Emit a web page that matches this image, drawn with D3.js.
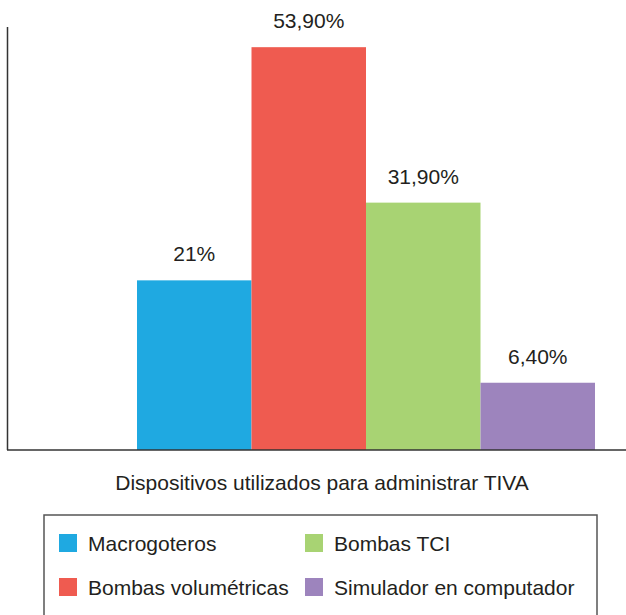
<!DOCTYPE html>
<html>
<head>
<meta charset="utf-8">
<script src="https://cdn.jsdelivr.net/npm/d3@7"></script>
<style>
  body { margin: 0; background: #fff; }
  svg text { font-family: "Liberation Sans", Arial, Helvetica, sans-serif; fill: #231f20; }
</style>
</head>
<body>
<div id="chart"></div>
<script>
// categories, bar heights and the printed labels
var categories = ['Macrogoteros', 'Bombas volumétricas', 'Bombas TCI', 'Simulador en computador'];
var values = [22.7, 53.9, 33.1, 9.0];
var valueLabels = ['21%', '53,90%', '31,90%', '6,40%'];
var colors = ['#1fa9e1', '#ef5b50', '#a8d373', '#9d84bd'];
var axisTitle = 'Dispositivos utilizados para administrar TIVA';

var width = 626, height = 615;
var baseY = 450, topY = 27;

var svg = d3.select('#chart').append('svg')
    .attr('width', width)
    .attr('height', height);

var x = d3.scaleBand().domain(categories).range([137, 595]).padding(0);
var y = d3.scaleLinear().domain([0, 56.6]).range([baseY, topY]);

// bars
svg.selectAll('rect.bar').data(values).enter()
  .append('rect')
  .attr('class', 'bar')
  .attr('x', function(d, i) { return x(categories[i]); })
  .attr('y', function(d) { return y(d); })
  .attr('width', x.bandwidth())
  .attr('height', function(d) { return baseY - y(d); })
  .attr('fill', function(d, i) { return colors[i]; });

// value labels
svg.selectAll('text.val').data(values).enter()
  .append('text')
  .attr('class', 'val')
  .attr('x', function(d, i) { return x(categories[i]) + x.bandwidth() / 2; })
  .attr('y', function(d) { return y(d) - 19; })
  .attr('text-anchor', 'middle')
  .attr('font-size', 21)
  .text(function(d, i) { return valueLabels[i]; });

// axes lines
svg.append('line')
  .attr('x1', 7.5).attr('x2', 7.5)
  .attr('y1', topY).attr('y2', baseY)
  .attr('stroke', '#333').attr('stroke-width', 1.5);
svg.append('line')
  .attr('x1', 7).attr('x2', width)
  .attr('y1', baseY).attr('y2', baseY)
  .attr('stroke', '#333').attr('stroke-width', 1.5);

// axis title
svg.append('text')
  .attr('x', 322).attr('y', 490)
  .attr('text-anchor', 'middle')
  .attr('font-size', 21)
  .text(axisTitle);

// legend
svg.append('rect')
  .attr('x', 44).attr('y', 515)
  .attr('width', 553).attr('height', 120)
  .attr('fill', 'none')
  .attr('stroke', '#555').attr('stroke-width', 1.5);

var legendPos = [[59, 534], [59, 578], [305, 534], [305, 578]];
var item = svg.selectAll('g.leg').data(categories).enter()
  .append('g')
  .attr('class', 'leg')
  .attr('transform', function(d, i) { return 'translate(' + legendPos[i][0] + ',' + legendPos[i][1] + ')'; });
item.append('rect')
  .attr('width', 18).attr('height', 18)
  .attr('fill', function(d, i) { return colors[i]; });
item.append('text')
  .attr('x', 29).attr('y', 17)
  .attr('font-size', 21)
  .text(function(d) { return d; });
</script>
</body>
</html>
